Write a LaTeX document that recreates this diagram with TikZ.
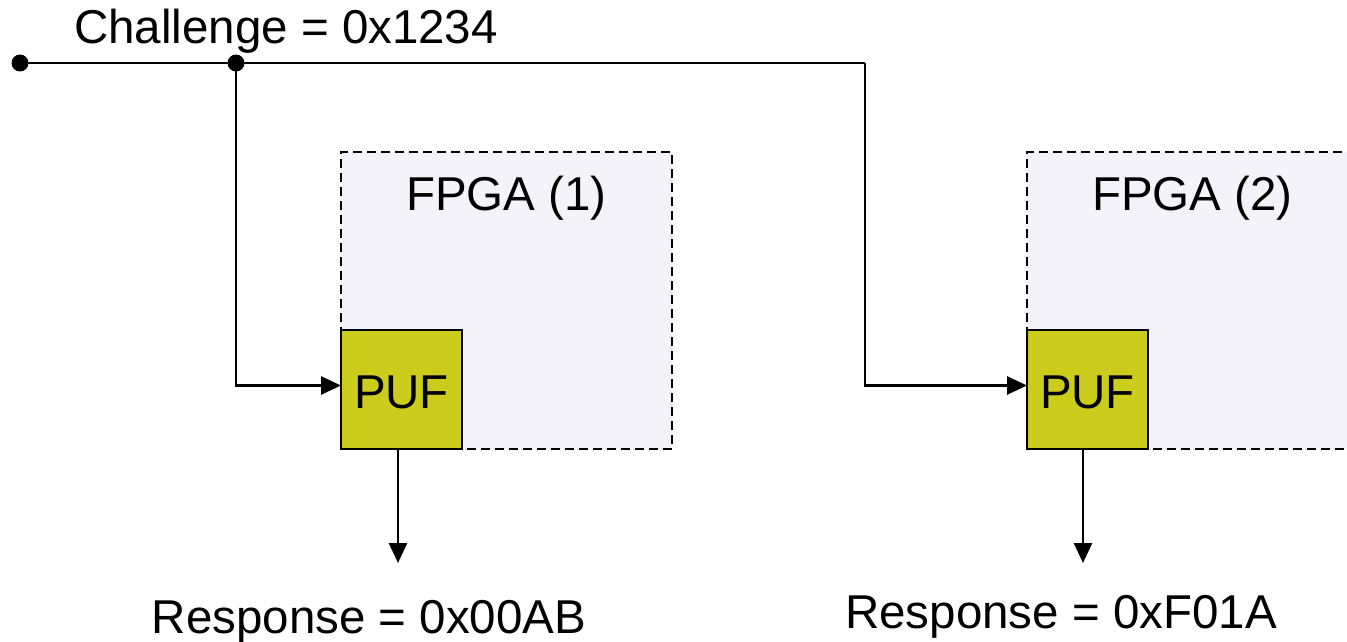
\documentclass[tikz,border=0pt]{standalone}
\usepackage{fontspec}
\setmainfont{Liberation Sans}
\usetikzlibrary{arrows.meta}
\definecolor{pufyellow}{RGB}{204,204,28}
\definecolor{fpgafill}{RGB}{243,243,249}
\begin{document}
\begin{tikzpicture}[x=1pt,y=-1pt,
  wire/.style={line width=2.8pt},
  flow/.style={wire,-{Triangle[length=20pt,width=18pt]}},
  fpga/.style={draw,line width=2.2pt,fill=fpgafill,dash pattern=on 9pt off 5pt,
    minimum width=331pt,minimum height=297pt,inner sep=0pt,outer sep=0pt,anchor=north west},
  puf/.style={draw,line width=2.2pt,fill=pufyellow,minimum width=121pt,minimum height=119pt,
    inner sep=0pt,outer sep=0pt,anchor=north west},
  big/.style={font=\fontsize{47.5}{56}\selectfont},
  lbl/.style={big,inner sep=0pt,anchor=base},
  dot/.style={circle,fill,inner sep=0pt,minimum size=17pt}]
\useasboundingbox (0,0) rectangle (1347,642);
\clip (0,0) rectangle (1347,642);

% FPGA boards
\node[fpga] (f1) at (341,152) {};
\node[fpga] (f2) at (1027,152) {};
\node[lbl] (f1l) at (506.5,210) {FPGA (1)};
\node[lbl] (f2l) at (1192.5,210) {FPGA (2)};

% PUF blocks
\node[puf] (p1) at (341,330) {};
\node[puf] (p2) at (1027,330) {};
\node[lbl] (p1l) at (401.5,408) {PUF};
\node[lbl] (p2l) at (1087.5,408) {PUF};

% challenge bus
\node[dot] (src) at (20,63) {};
\node[dot] (jn) at (236,63) {};
\coordinate (turn) at (865,63);
\node[lbl] (chal) at (286,44) {Challenge = 0x1234};
\draw[wire] (src.center) -- (turn);
\draw[flow] (turn) |- ([yshift=4pt]p2.west);
\draw[flow] (jn.center) |- ([yshift=4pt]p1.west);

% responses
\coordinate (r1) at (398,563);
\coordinate (r2) at (1083,563);
\draw[flow] (p1.south -| r1) -- (r1);
\draw[flow] (p2.south -| r2) -- (r2);
\node[lbl] (resp1) at (369,633) {Response = 0x00AB};
\node[lbl] (resp2) at (1061,628) {Response = 0xF01A};
\end{tikzpicture}
\end{document}
